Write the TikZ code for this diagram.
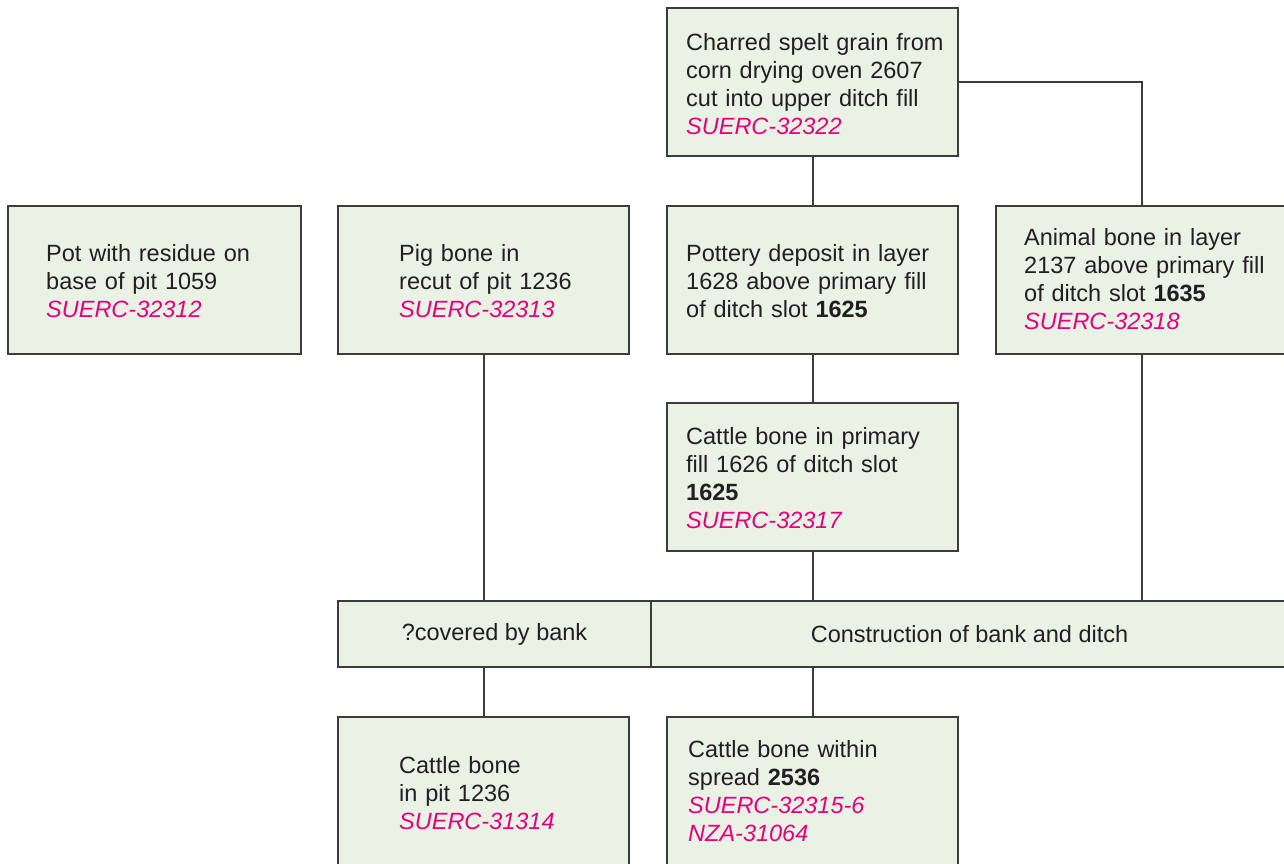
\documentclass[tikz,border=0pt]{standalone}
\usepackage{fontspec}
\setmainfont{Liberation Sans}
\definecolor{boxfill}{HTML}{E9F2E5}
\definecolor{boxline}{HTML}{3C3C3B}
\definecolor{txtcol}{HTML}{231F20}
\definecolor{codecol}{HTML}{E6007E}
\newcommand{\code}[1]{{\color{codecol}\itshape #1}}
\begin{document}
\begin{tikzpicture}[x=1pt,y=-1pt,
  box/.style={draw=boxline, fill=boxfill, line width=1.8pt, inner sep=0pt, minimum width=#1, minimum height=148pt},
  box/.default=292pt,
  bar/.style={draw=boxline, fill=boxfill, line width=1.8pt, inner sep=0pt, minimum height=66pt, text=txtcol,
    font=\fontsize{23.5}{28.3}\selectfont},
  txt/.style={anchor=base west, inner sep=0pt, text width=290pt, align=left, text=txtcol,
    font=\fontsize{23.5}{28.3}\selectfont},
  conn/.style={draw=boxline, line width=2pt}]
\useasboundingbox (0,0) rectangle (1284,863);
\clip (0,0) rectangle (1284,863);
% boxes
\node[box=291pt] (top) at (812.5,82) {};
\node[box=293pt] (A) at (154.5,280) {};
\node[box=291pt] (B) at (483.5,280) {};
\node[box=291pt] (C) at (812.5,280) {};
\node[box] (D) at (1142,280) {};
\node[box=291pt] (C2) at (812.5,477) {};
\node[bar, minimum width=313pt] (barL) at (494.5,634) {?covered by bank};
\node[bar, minimum width=637pt] (barR) at (969.5,634) {Construction of bank and ditch};
\node[box=291pt] (bl) at (483.5,791) {};
\node[box=291pt] (br) at (812.5,791) {};
% texts
\node[txt] (tTop) at (686,50) {Charred spelt grain from\\corn drying oven 2607\\cut into upper ditch fill\\\code{SUERC-32322}};
\node[txt] (tA) at (46,261) {Pot with residue on\\base of pit 1059\\\code{SUERC-32312}};
\node[txt] (tB) at (399,261) {Pig bone in\\recut of pit 1236\\\code{SUERC-32313}};
\node[txt] (tC) at (686,261) {Pottery deposit in layer\\1628 above primary fill\\of ditch slot \textbf{1625}};
\node[txt] (tD) at (1024,245) {Animal bone in layer\\2137 above primary fill\\of ditch slot \textbf{1635}\\\code{SUERC-32318}};
\node[txt] (tC2) at (686,444) {Cattle bone in primary\\fill 1626 of ditch slot\\\textbf{1625}\\\code{SUERC-32317}};
\node[txt] (tbl) at (399,773) {Cattle bone\\in pit 1236\\\code{SUERC-31314}};
\node[txt] (tbr) at (688,757) {Cattle bone within\\spread \textbf{2536}\\\code{SUERC-32315-6}\\\code{NZA-31064}};
% connectors
\draw[conn] (top.south) -- (C.north);
\draw[conn] (top.east) -| (D.north);
\draw[conn] (B.south) -- (B.south |- barL.north);
\draw[conn] (C.south) -- (C2.north);
\draw[conn] (C2.south) -- (C2.south |- barR.north);
\draw[conn] (D.south) -- (D.south |- barR.north);
\draw[conn] (bl.north |- barL.south) -- (bl.north);
\draw[conn] (br.north |- barR.south) -- (br.north);
\end{tikzpicture}
\end{document}
